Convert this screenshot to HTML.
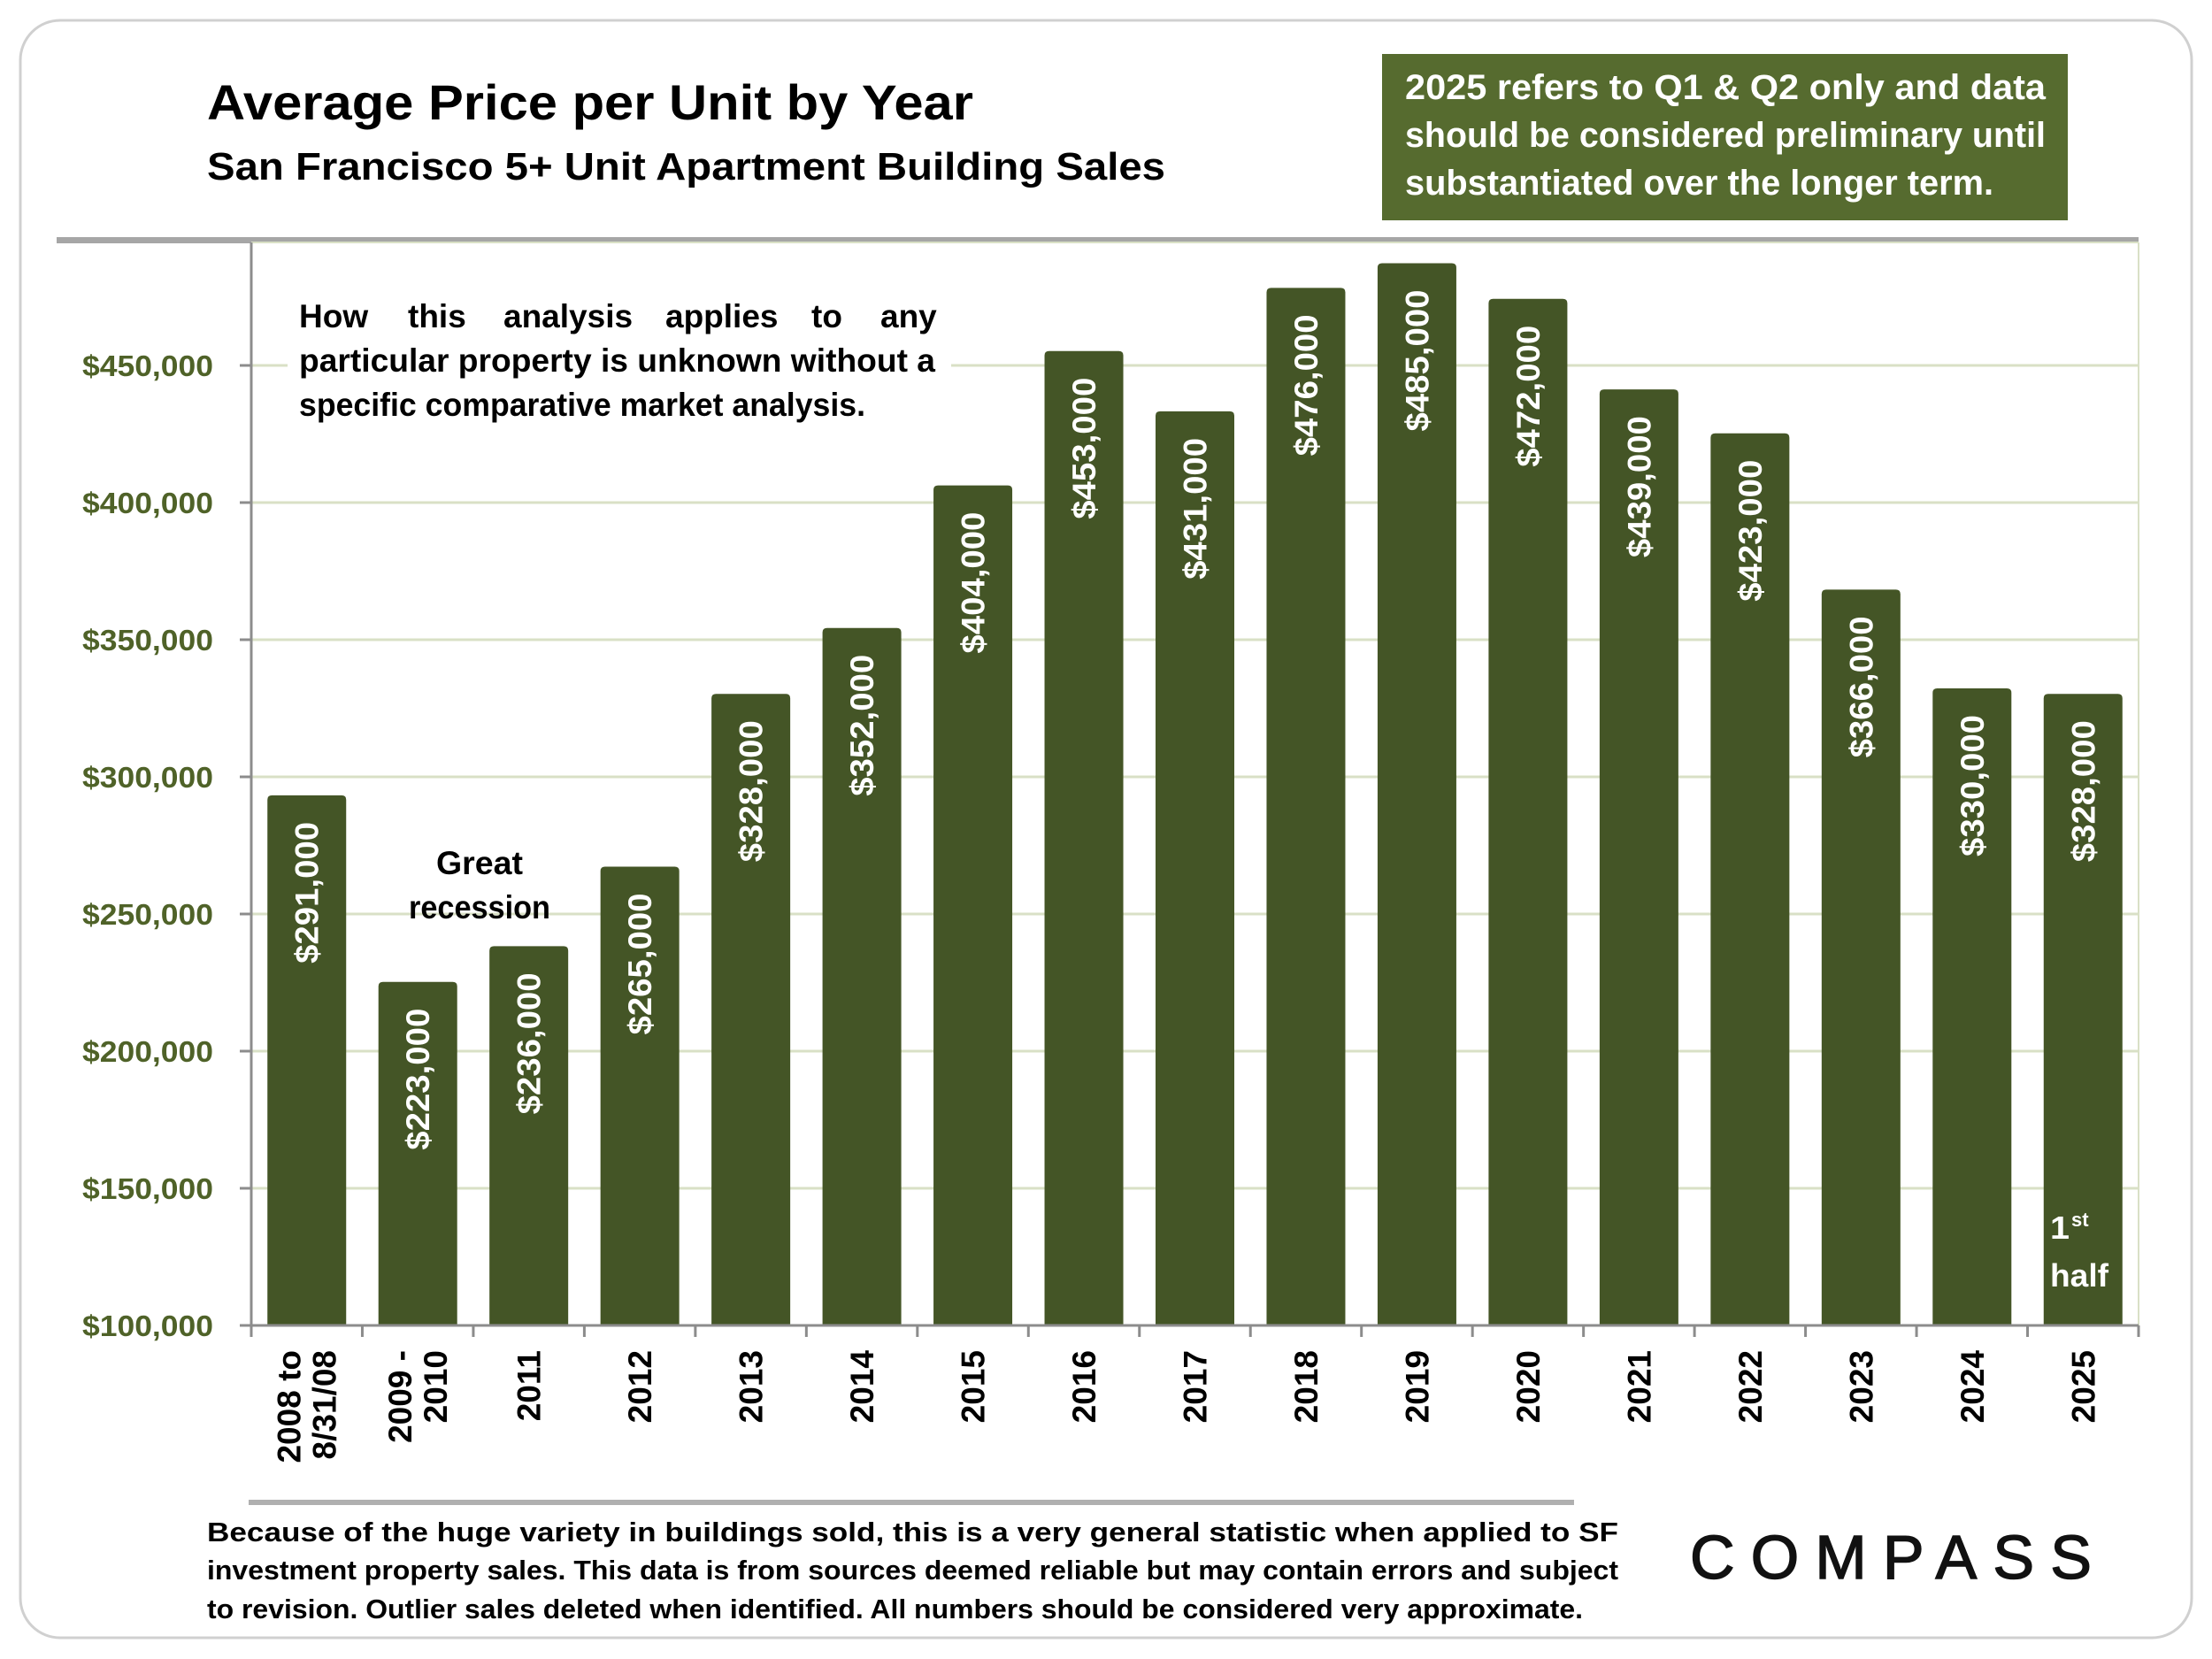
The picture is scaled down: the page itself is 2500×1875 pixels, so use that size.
<!DOCTYPE html>
<html><head><meta charset="utf-8"><style>
html,body{margin:0;padding:0;background:#fff;}
svg{display:block;font-family:"Liberation Sans",sans-serif;font-weight:bold;}
</style></head><body>
<svg id="chart" width="2500" height="1875" viewBox="0 0 2500 1875" xmlns="http://www.w3.org/2000/svg">
<rect x="23" y="23" width="2454" height="1828" rx="45" fill="#fff" stroke="#d0d0d0" stroke-width="3"/>
<text x="234" y="135" font-size="56" fill="#000" textLength="866" lengthAdjust="spacingAndGlyphs">Average Price per Unit by Year</text>
<text x="234" y="203" font-size="44" fill="#000" textLength="1083" lengthAdjust="spacingAndGlyphs">San Francisco 5+ Unit Apartment Building Sales</text>
<g>
<rect x="1562" y="61" width="775" height="188" fill="#566b2f"/>
<text x="1588" y="112" font-size="40" fill="#fff" textLength="724" lengthAdjust="spacingAndGlyphs">2025 refers to Q1 &amp; Q2 only and data</text>
<text x="1588" y="166" font-size="40" fill="#fff" textLength="724" lengthAdjust="spacingAndGlyphs">should be considered preliminary until</text>
<text x="1588" y="220" font-size="40" fill="#fff" textLength="665" lengthAdjust="spacingAndGlyphs">substantiated over the longer term.</text>
</g>
<rect x="64" y="268" width="2353" height="7" fill="#a6a6a6"/>
<g id="plot"></g>
<g font-size="37" fill="#000">
<rect x="325" y="325" width="750" height="160" fill="#fff"/>
<text y="370"><tspan x="338">How</tspan><tspan x="461">this</tspan><tspan x="569">analysis</tspan><tspan x="752">applies</tspan><tspan x="917">to</tspan><tspan x="995">any</tspan></text>
<text x="338" y="420" textLength="719" lengthAdjust="spacingAndGlyphs">particular property is unknown without a</text>
<text x="338" y="470" textLength="640" lengthAdjust="spacingAndGlyphs">specific comparative market analysis.</text>
</g>
<g font-size="37" fill="#000" text-anchor="middle">
<text x="542" y="988" textLength="98" lengthAdjust="spacingAndGlyphs">Great</text>
<text x="542" y="1038" textLength="160" lengthAdjust="spacingAndGlyphs">recession</text>
</g>
<g fill="#fff" font-size="36">
<text x="2317" y="1400" textLength="22" lengthAdjust="spacingAndGlyphs">1</text><text x="2341" y="1386" font-size="22">st</text>
<text x="2317" y="1454" textLength="66" lengthAdjust="spacingAndGlyphs">half</text>
</g>
<rect x="281" y="1695" width="1498" height="6" fill="#b0b0b0"/>
<g font-size="31" fill="#000">
<text x="234" y="1742" textLength="1595" lengthAdjust="spacingAndGlyphs">Because of the huge variety in buildings sold, this is a very general statistic when applied to SF</text>
<text x="234" y="1785" textLength="1595" lengthAdjust="spacingAndGlyphs">investment property sales. This data is from sources deemed reliable but may contain errors and subject</text>
<text x="234" y="1829" textLength="1555" lengthAdjust="spacingAndGlyphs">to revision. Outlier sales deleted when identified. All numbers should be considered very approximate.</text>
</g>
<text x="1910" y="1784" font-size="70" font-weight="normal" fill="#111" stroke="#111" stroke-width="1.5" textLength="454" lengthAdjust="spacing">COMPASS</text>
</svg>
<script>
const categories = [["2008 to","8/31/08"],["2009 -","2010"],["2011"],["2012"],["2013"],["2014"],["2015"],["2016"],["2017"],["2018"],["2019"],["2020"],["2021"],["2022"],["2023"],["2024"],["2025"]];
const values = [291000,223000,236000,265000,328000,352000,404000,453000,431000,476000,485000,472000,439000,423000,366000,330000,328000];
const valueLabels = ["$291,000","$223,000","$236,000","$265,000","$328,000","$352,000","$404,000","$453,000","$431,000","$476,000","$485,000","$472,000","$439,000","$423,000","$366,000","$330,000","$328,000"];
const yTicks = [100000,150000,200000,250000,300000,350000,400000,450000];
const yTickLabels = ["$100,000","$150,000","$200,000","$250,000","$300,000","$350,000","$400,000","$450,000"];

const NS = "http://www.w3.org/2000/svg";
const plot = document.getElementById('plot');
const X0 = 284, X1 = 2417, YTOP = 274;
const yMin = 100000, Ybase = 1498, pxPer = 155/50000;
const y = v => Ybase - (v - yMin) * pxPer;
const step = (X1 - X0) / categories.length;
const xc = i => X0 + step * (i + 0.5);
const barW = 89;
function mk(tag, attrs, parent) {
  const e = document.createElementNS(NS, tag);
  for (const k in attrs) e.setAttribute(k, attrs[k]);
  (parent || plot).appendChild(e);
  return e;
}
yTicks.forEach((t, i) => {
  if (i > 0) {
    const g = mk('line', {x1: X0, x2: X1, y1: y(t), y2: y(t), stroke: '#d9e0c6', 'stroke-width': 3});
    
    
  }
  const tk = mk('line', {x1: X0 - 13, x2: X0, y1: y(t), y2: y(t), stroke: '#8c8c8c', 'stroke-width': 3});
  
  
  const lb = mk('text', {x: 241, y: y(t) + 12, 'text-anchor': 'end', 'font-size': 33, fill: '#4f6228', textLength: 148, lengthAdjust: 'spacingAndGlyphs'});
  lb.textContent = yTickLabels[i];
  
  
});
const rb = mk('line', {x1: X1, x2: X1, y1: YTOP, y2: Ybase, stroke: '#d9e0c6', 'stroke-width': 2});


const tb = mk('line', {x1: X0, x2: X1, y1: YTOP, y2: YTOP, stroke: '#d9e0c6', 'stroke-width': 2});


values.forEach((v, i) => {
  const top = y(v) - 7;
  const b = mk('path', {d: `M${xc(i)-barW/2},${Ybase} V${top+5} Q${xc(i)-barW/2},${top} ${xc(i)-barW/2+5},${top} H${xc(i)+barW/2-5} Q${xc(i)+barW/2},${top} ${xc(i)+barW/2},${top+5} V${Ybase} Z`, fill: '#445526'});
  
  
  const t = mk('text', {x: 0, y: 0, transform: `translate(${xc(i)+13},${top+30}) rotate(-90)`, 'text-anchor': 'end', 'font-size': 37, fill: '#fff', textLength: 160, lengthAdjust: 'spacingAndGlyphs'});
  t.textContent = valueLabels[i];
  
  
});
const ya = mk('line', {x1: X0, x2: X0, y1: YTOP, y2: Ybase, stroke: '#8c8c8c', 'stroke-width': 3});


const xa = mk('line', {x1: X0 - 13, x2: X1, y1: Ybase, y2: Ybase, stroke: '#8c8c8c', 'stroke-width': 3});


for (let i = 0; i <= categories.length; i++) {
  const xt = X0 + step * i;
  const tk = mk('line', {x1: xt, x2: xt, y1: Ybase, y2: Ybase + 13, stroke: '#8c8c8c', 'stroke-width': 3});
  
  
}
categories.forEach((c, i) => {
  const lh = 40;
  c.forEach((line, j) => {
    const off = (j - (c.length - 1) / 2) * lh;
    const t = mk('text', {x: 0, y: 0, transform: `translate(${xc(i)+13+off},${Ybase+28}) rotate(-90)`, 'text-anchor': 'end', 'font-size': 37, fill: '#000'});
    t.textContent = line;
    
    
  });
});
</script>
</body></html>
